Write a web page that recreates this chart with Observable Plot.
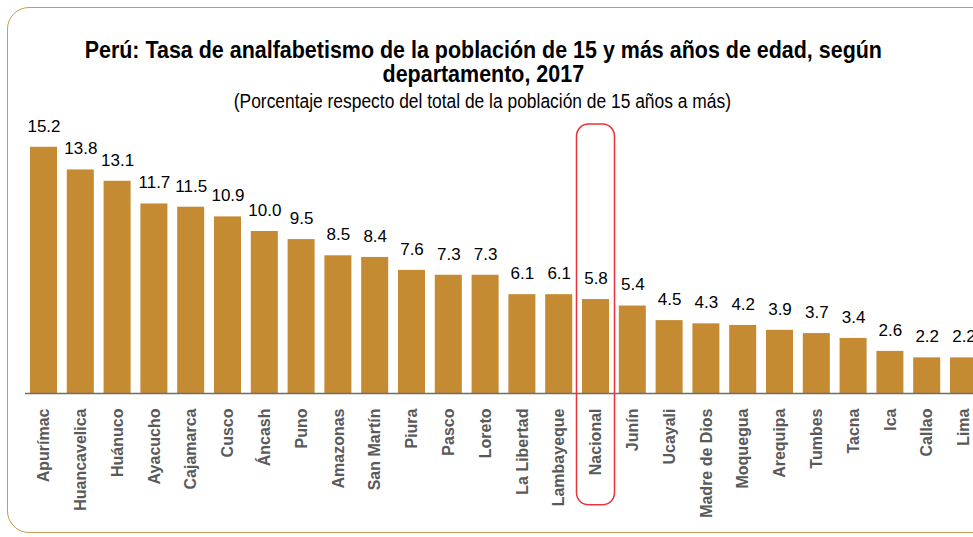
<!DOCTYPE html>
<html>
<head>
<meta charset="utf-8">
<script src="https://cdn.jsdelivr.net/npm/d3@7"></script>
<script src="https://cdn.jsdelivr.net/npm/@observablehq/plot@0.6"></script>
<style>
  html, body { margin: 0; padding: 0; background: #fff; overflow: hidden; }
  #wrap { position: relative; width: 973px; height: 537px; overflow: hidden;
    font-family: "Liberation Sans", Arial, sans-serif; }
  #frame { position: absolute; left: 7px; top: 7px; width: 1000px; height: 526px;
    border: 1.5px solid #C99A55; border-radius: 22px; box-sizing: border-box; }
  .title { position: absolute; left: 0; width: 966px; text-align: center;
    font-weight: bold; font-size: 24px; line-height: 24px; color: #000;
    transform: scaleX(0.894); transform-origin: 486px 0; white-space: nowrap; }
  #t1 { top: 38px; }
  #t2 { top: 62px; }
  #subtitle { position: absolute; left: 0; top: 91px; width: 966px; text-align: center;
    font-size: 20px; line-height: 20px; color: #000; white-space: nowrap;
    transform: scaleX(0.87); transform-origin: 478px 0; }
  #chart { position: absolute; left: 0; top: 0; }
  #chart svg { overflow: visible; }
</style>
</head>
<body>
<div id="wrap">
  <div id="frame"></div>
  <div class="title" id="t1">Perú: Tasa de analfabetismo de la población de 15 y más años de edad, según</div>
  <div class="title" id="t2">departamento, 2017</div>
  <div id="subtitle">(Porcentaje respecto del total de la población de 15 años a más)</div>
  <div id="chart"></div>
</div>
<script>
const departamentos = ["Apurímac","Huancavelica","Huánuco","Ayacucho","Cajamarca","Cusco","Áncash","Puno","Amazonas","San Martín","Piura","Pasco","Loreto","La Libertad","Lambayeque","Nacional","Junín","Ucayali","Madre de Dios","Moquegua","Arequipa","Tumbes","Tacna","Ica","Callao","Lima"];
const tasas = [15.2,13.8,13.1,11.7,11.5,10.9,10.0,9.5,8.5,8.4,7.6,7.3,7.3,6.1,6.1,5.8,5.4,4.5,4.3,4.2,3.9,3.7,3.4,2.6,2.2,2.2];
const destacado = ["Nacional"];

const data = departamentos.map((d, i) => ({dep: d, tasa: tasas[i]}));
const font = '"Liberation Sans", Arial, sans-serif';

const chart = Plot.plot({
  width: 973,
  height: 537,
  marginLeft: 25,
  marginRight: 0,
  marginTop: 133.8,
  marginBottom: 144,
  style: {fontFamily: font, background: "transparent"},
  x: {domain: departamentos, range: [20.2, 986.8], padding: 0.266, round: false, label: null},
  y: {domain: [0, 16], range: [393, 133.8], axis: null},
  marks: [
    Plot.barY(data, {x: "dep", y: "tasa", fill: "#C48B33"}),
    Plot.ruleY([0], {stroke: "#6E6E6E", strokeWidth: 1.6}),
    Plot.text(data, {x: "dep", y: "tasa", text: d => d.tasa.toFixed(1), dy: -21, fontSize: 17, fill: "#000"}),
    Plot.axisX({tickRotate: -90, tickSize: 0, tickPadding: 15, fontSize: 16, fontWeight: "bold", color: "#595959", label: null}),
    Plot.rect(destacado, {x: d => d, y1: -6.9, y2: 16.6, rx: 12, fill: "none", stroke: "#E8323C", strokeWidth: 1.5, insetLeft: -5.5, insetRight: -5.5})
  ]
});
document.getElementById("chart").appendChild(chart);
</script>
</body>
</html>
